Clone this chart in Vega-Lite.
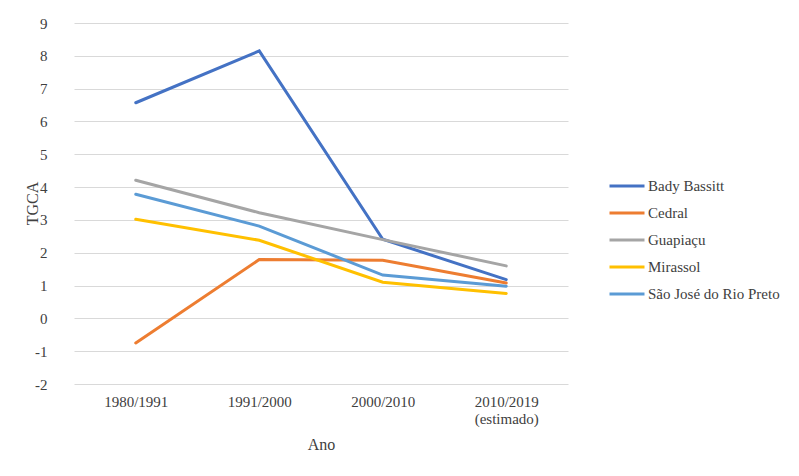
{
  "$schema": "https://vega.github.io/schema/vega-lite/v6.json",
  "width": 494,
  "height": 361,
  "autosize": {"type": "none"},
  "padding": {"left": 74, "top": 23, "right": 231, "bottom": 92},
  "background": "#ffffff",
  "config": {
    "view": {"stroke": null},
    "font": "Liberation Serif",
    "axis": {"labelFont": "Liberation Serif", "titleFont": "Liberation Serif", "labelColor": "#404040", "titleColor": "#404040"},
    "legend": {"labelFont": "Liberation Serif"},
    "text": {"font": "Liberation Serif"}
  },
  "data": {
    "values": [
      {"periodo": "1980/1991", "municipio": "Bady Bassitt", "tgca": 6.57},
      {"periodo": "1991/2000", "municipio": "Bady Bassitt", "tgca": 8.15},
      {"periodo": "2000/2010", "municipio": "Bady Bassitt", "tgca": 2.41},
      {"periodo": "2010/2019 (estimado)", "municipio": "Bady Bassitt", "tgca": 1.18},
      {"periodo": "1980/1991", "municipio": "Cedral", "tgca": -0.75},
      {"periodo": "1991/2000", "municipio": "Cedral", "tgca": 1.79},
      {"periodo": "2000/2010", "municipio": "Cedral", "tgca": 1.77},
      {"periodo": "2010/2019 (estimado)", "municipio": "Cedral", "tgca": 1.08},
      {"periodo": "1980/1991", "municipio": "Guapiaçu", "tgca": 4.21},
      {"periodo": "1991/2000", "municipio": "Guapiaçu", "tgca": 3.22},
      {"periodo": "2000/2010", "municipio": "Guapiaçu", "tgca": 2.4},
      {"periodo": "2010/2019 (estimado)", "municipio": "Guapiaçu", "tgca": 1.6},
      {"periodo": "1980/1991", "municipio": "Mirassol", "tgca": 3.02},
      {"periodo": "1991/2000", "municipio": "Mirassol", "tgca": 2.38},
      {"periodo": "2000/2010", "municipio": "Mirassol", "tgca": 1.1},
      {"periodo": "2010/2019 (estimado)", "municipio": "Mirassol", "tgca": 0.76},
      {"periodo": "1980/1991", "municipio": "São José do Rio Preto", "tgca": 3.78},
      {"periodo": "1991/2000", "municipio": "São José do Rio Preto", "tgca": 2.81},
      {"periodo": "2000/2010", "municipio": "São José do Rio Preto", "tgca": 1.32},
      {"periodo": "2010/2019 (estimado)", "municipio": "São José do Rio Preto", "tgca": 0.98}
    ]
  },
  "mark": {"type": "line", "strokeWidth": 3, "strokeCap": "round"},
  "encoding": {
    "x": {
      "field": "periodo",
      "type": "ordinal",
      "sort": null,
      "scale": {"type": "point", "padding": 0.5},
      "axis": {
        "title": "Ano",
        "titleFontSize": 16,
        "titleFontWeight": "normal",
        "titlePadding": 10,
        "labelFontSize": 15,
        "labelAngle": 0,
        "labelPadding": 10,
        "ticks": false,
        "domain": false,
        "grid": false,
        "labelExpr": "datum.value == '2010/2019 (estimado)' ? ['2010/2019', '(estimado)'] : datum.label"
      }
    },
    "y": {
      "field": "tgca",
      "type": "quantitative",
      "scale": {"domain": [-2, 9], "nice": false},
      "axis": {
        "title": "TGCA",
        "titleFontSize": 16,
        "titleFontWeight": "normal",
        "titleX": -42,
        "titleY": 180,
        "titleAngle": -90,
        "titleAlign": "center",
        "titleBaseline": "middle",
        "labelFontSize": 15,
        "labelPadding": 27,
        "values": [-2, -1, 0, 1, 2, 3, 4, 5, 6, 7, 8, 9],
        "labelExpr": "replace(datum.label, '−', '-')",
        "ticks": false,
        "domain": false,
        "gridColor": "#d9d9d9",
        "gridWidth": 1
      }
    },
    "color": {
      "field": "municipio",
      "type": "nominal",
      "scale": {
        "domain": ["Bady Bassitt", "Cedral", "Guapiaçu", "Mirassol", "São José do Rio Preto"],
        "range": ["#4472C4", "#ED7D31", "#A5A5A5", "#FFC000", "#5B9BD5"]
      },
      "legend": {
        "title": null,
        "orient": "none",
        "legendX": 534,
        "legendY": 144,
        "symbolType": "stroke",
        "symbolStrokeWidth": 3,
        "symbolSize": 1225,
        "labelFont": "Liberation Serif",
        "labelFontSize": 15,
        "labelColor": "#404040",
        "rowPadding": 0,
        "labelOffset": 2
      }
    }
  }
}
